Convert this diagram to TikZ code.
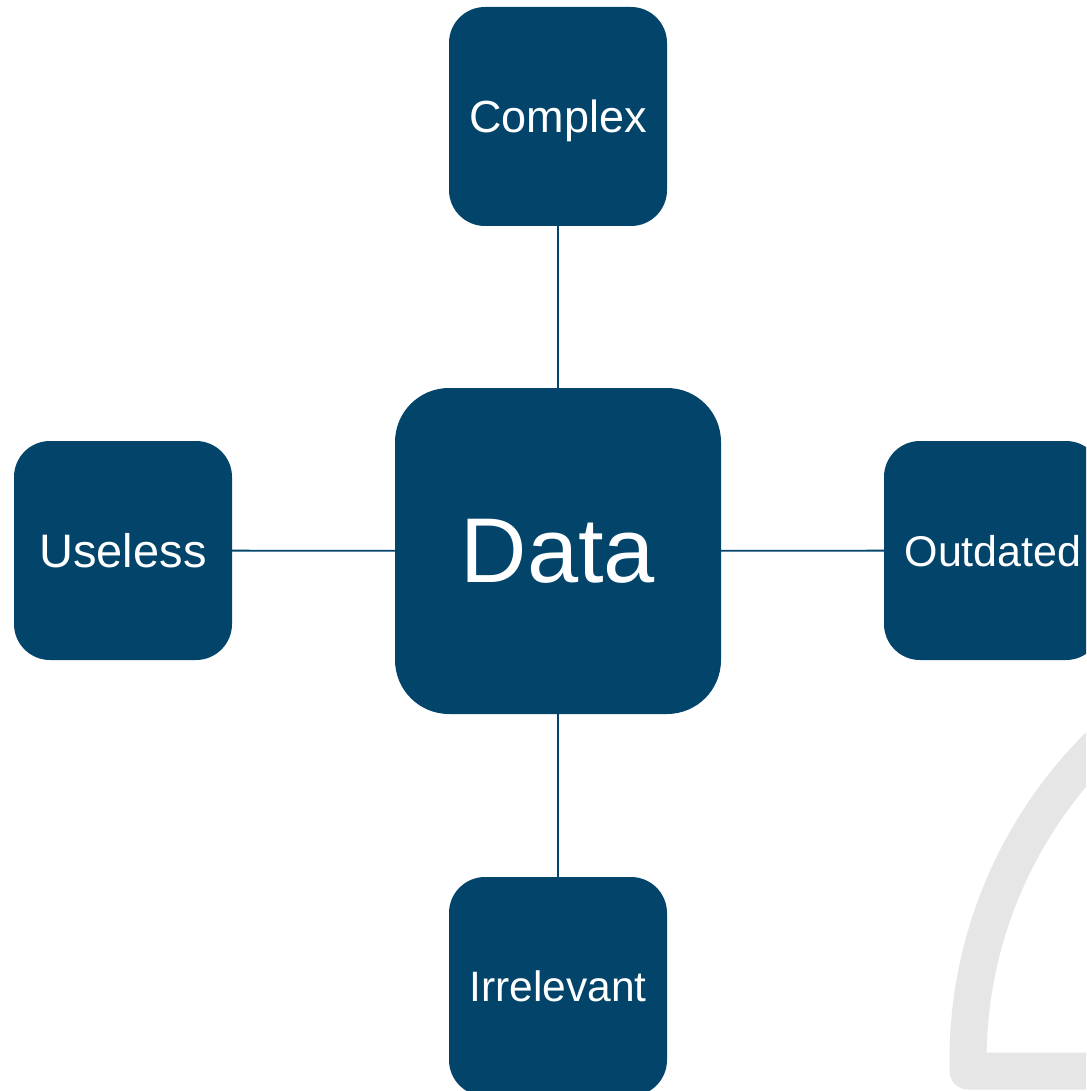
\documentclass[tikz,border=0pt]{standalone}
\usepackage{fontspec}
\setmainfont{Liberation Sans}
\definecolor{boxblue}{HTML}{03446B}
\definecolor{ghost}{HTML}{E6E6E6}
\begin{document}
\begin{tikzpicture}[x=1pt,y=-1pt,
  box/.style={rectangle, rounded corners=36pt, fill=boxblue, text=white,
    minimum width=218pt, minimum height=219pt, inner sep=0pt, text depth=0pt,
    font=\fontsize{43}{50}\selectfont},
  bigbox/.style={box, rounded corners=54pt, minimum width=326pt, minimum height=326pt,
    font=\fontsize{92}{100}\selectfont},
  link/.style={draw=boxblue, line width=1.8pt}]
\clip (0,0) rectangle (1086,1091);
\fill[white] (0,0) rectangle (1086,1091);
% faint background arc
\draw[ghost, line width=37pt, line join=round]
  (1200,1071) -- (968,1071) -- (968,1060) arc[start angle=180, end angle=235, radius=443];
\node[bigbox] (data) at (558,551) {Data};
\node[box, font=\fontsize{45}{50}\selectfont] (complex) at (558,116.5) {Complex};
\node[box, font=\fontsize{47}{52}\selectfont] (useless) at (123,550.5) {Useless};
\node[box] (outdated) at (993,550.5) {Outdated};
\node[box, font=\fontsize{42.5}{50}\selectfont] (irrel) at (558,986.5) {Irrelevant};
\draw[link] (complex) -- (data);
\draw[link] (data) -- (irrel);
\draw[link] (useless) -- (data);
\draw[link] (data) -- (outdated);
\end{tikzpicture}
\end{document}
